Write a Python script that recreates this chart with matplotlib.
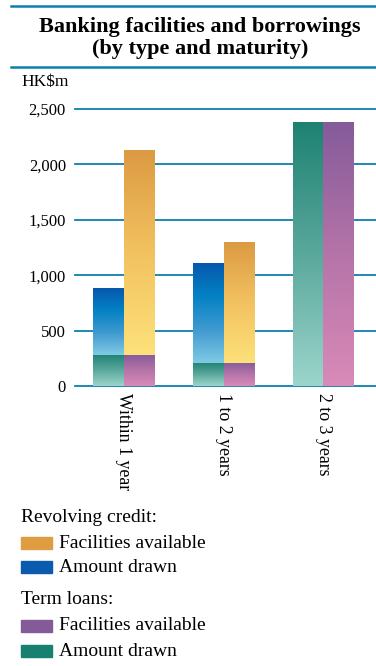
import numpy as np
import matplotlib
matplotlib.use('Agg')
import matplotlib.pyplot as plt
from matplotlib.colors import LinearSegmentedColormap
from matplotlib.patches import Rectangle
from matplotlib.lines import Line2D

# Maturity buckets and amounts (HK$m)
maturities = ['Within 1 year', '1 to 2 years', '2 to 3 years']
term_drawn = [280, 210, 2380]
term_available = [280, 210, 2380]
revolving_drawn = [600, 900, 0]
revolving_available = [1850, 1090, 0]
y_ticks = [0, 500, 1000, 1500, 2000, 2500]
y_tick_labels = ['0', '500', '1,000', '1,500', '2,000', '2,500']

SERIF = 'Liberation Serif'
LINE_BLUE = '#0c7fae'

# colour ramps run from the bottom of each segment to its top
ramps = {
    'rev_avail': ['#fde17a', '#f2c260', '#dc9a42'],
    'rev_drawn': ['#80cae4', '#3f9ad0', '#0382c4', '#0658ad'],
    'term_avail': ['#d98ab8', '#b574a8', '#855b9a'],
    'term_drawn': ['#9cd5cc', '#5aa89c', '#1d8272'],
}
swatch = {
    'rev_avail': '#e09c40',
    'rev_drawn': '#0a5aad',
    'term_avail': '#845a98',
    'term_drawn': '#188070',
}


def fill_gradient(ax, bars, colors):
    # paint every bar segment with its own vertical colour ramp
    cmap = LinearSegmentedColormap.from_list('ramp', colors)
    grad = np.linspace(0, 1, 256).reshape(-1, 1)
    for p in bars.patches:
        x0, y0 = p.get_x(), p.get_y()
        w, h = p.get_width(), p.get_height()
        if h <= 0:
            continue
        ax.imshow(grad, cmap=cmap, origin='lower', aspect='auto',
                  extent=(x0, x0 + w, y0, y0 + h), zorder=3,
                  interpolation='bilinear')
        p.set_visible(False)


def main():
    fig = plt.figure(figsize=(3.76, 6.66), dpi=100)
    ax = fig.add_axes([75 / 376, 1 - 386 / 666, 301 / 376, 277 / 666])

    x = np.arange(len(maturities))
    width = 0.307

    b1 = ax.bar(x - width / 2, term_drawn, width)
    b2 = ax.bar(x + width / 2, term_available, width)
    b3 = ax.bar(x - width / 2, revolving_drawn, width, bottom=term_drawn)
    b4 = ax.bar(x + width / 2, revolving_available, width, bottom=term_available)
    fill_gradient(ax, b1, ramps['term_drawn'])
    fill_gradient(ax, b2, ramps['term_avail'])
    fill_gradient(ax, b3, ramps['rev_drawn'])
    fill_gradient(ax, b4, ramps['rev_avail'])

    ax.set_xlim(-0.49, 2.53)
    ax.set_ylim(0, 2500)
    for t in y_ticks:
        ax.axhline(t, color=LINE_BLUE, lw=1.3, zorder=1, clip_on=False)

    for s in ax.spines.values():
        s.set_visible(False)
    ax.set_yticks(y_ticks)
    ax.set_yticklabels(y_tick_labels, fontfamily=SERIF, fontsize=12)
    ax.set_xticks(x)
    ax.set_xticklabels(maturities, rotation=270, fontfamily=SERIF,
                       fontsize=12.8, va='top', ha='center')
    ax.tick_params(axis='both', length=0)
    ax.tick_params(axis='y', pad=6.5)
    ax.tick_params(axis='x', pad=5)

    # title block between two rules
    fig.add_artist(Line2D([11 / 376, 1], [1 - 6 / 666] * 2, color=LINE_BLUE, lw=1.8))
    fig.add_artist(Line2D([11 / 376, 1], [1 - 67 / 666] * 2, color=LINE_BLUE, lw=1.8))
    fig.text(0.532, 1 - 27 / 666, 'Banking facilities and borrowings',
             ha='center', va='center', fontfamily=SERIF, fontweight='bold', fontsize=16)
    fig.text(0.532, 1 - 49 / 666, '(by type and maturity)',
             ha='center', va='center', fontfamily=SERIF, fontweight='bold', fontsize=16)
    fig.text(21 / 376, 1 - 82 / 666, 'HK$m', ha='left', va='center',
             fontfamily=SERIF, fontsize=12.5)

    # legend
    rows = [
        (517, None, 'Revolving credit:'),
        (543, 'rev_avail', 'Facilities available'),
        (567, 'rev_drawn', 'Amount drawn'),
        (600, None, 'Term loans:'),
        (626, 'term_avail', 'Facilities available'),
        (651, 'term_drawn', 'Amount drawn'),
    ]
    for ypx, key, label in rows:
        if key is None:
            fig.text(21 / 376, 1 - ypx / 666, label, ha='left', va='center',
                     fontfamily=SERIF, fontsize=14)
        else:
            fig.add_artist(Rectangle((21 / 376, 1 - (ypx + 6) / 666), 31 / 376, 12 / 666,
                                     color=swatch[key], transform=fig.transFigure))
            fig.text(59 / 376, 1 - ypx / 666, label, ha='left', va='center',
                     fontfamily=SERIF, fontsize=14)

    fig.savefig('out.png', dpi=100)


if __name__ == '__main__':
    main()
